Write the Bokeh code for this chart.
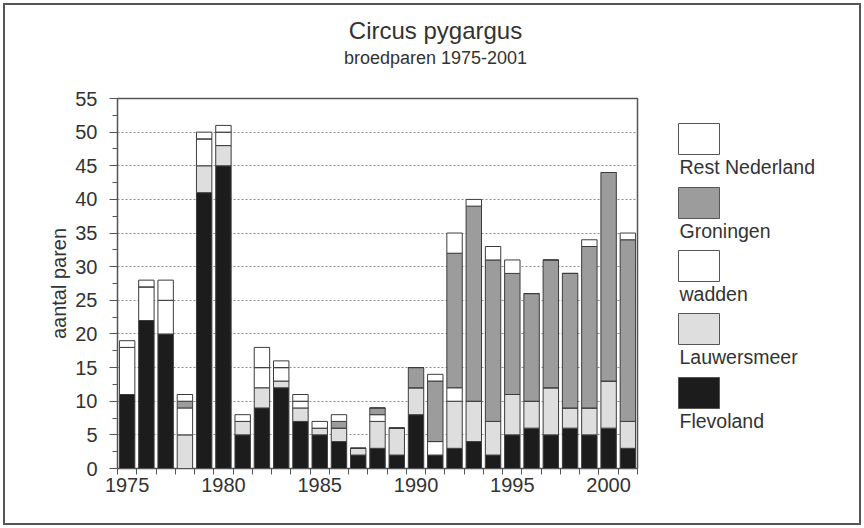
from bokeh.plotting import figure
from bokeh.layouts import column, row
from bokeh.models import (FixedTicker, SingleIntervalTicker, Range1d, ColumnDataSource)
from bokeh.core.properties import value
from bokeh.embed import file_html
from bokeh.resources import INLINE

years = list(range(1975, 2002))
flevoland   = [11, 22, 20, 0, 41, 45, 5, 9, 12, 7, 5, 4, 2, 3, 2, 8, 2, 3, 4, 2, 5, 6, 5, 6, 5, 6, 3]
lauwersmeer = [0, 0, 0, 5, 4, 3, 2, 3, 1, 2, 1, 2, 1, 4, 4, 4, 0, 7, 6, 5, 6, 4, 7, 3, 4, 7, 4]
wadden      = [7, 5, 5, 4, 4, 2, 0, 3, 2, 1, 0, 0, 0, 1, 0, 0, 2, 2, 0, 0, 0, 0, 0, 0, 0, 0, 0]
groningen   = [0, 0, 0, 1, 0, 0, 0, 0, 0, 0, 0, 1, 0, 1, 0, 3, 9, 20, 29, 24, 18, 16, 19, 20, 24, 31, 27]
rest_nl     = [1, 1, 3, 1, 1, 1, 1, 3, 1, 1, 1, 1, 0, 0, 0, 0, 1, 3, 1, 2, 2, 0, 0, 0, 1, 0, 1]

series_names = ["Flevoland", "Lauwersmeer", "wadden", "Groningen", "Rest Nederland"]
series_colors = ["#1c1c1c", "#dedede", "#ffffff", "#9c9c9c", "#ffffff"]
x_label_years = [1975, 1980, 1985, 1990, 1995, 2000]
title_text = "Circus pygargus"
subtitle_text = "broedparen 1975-2001"

FONT = "Liberation Sans"
TXT = "#333333"
EDGE = "#555555"

# ---- page geometry (pixels on the page) ----
X0, Y0 = 5, 5            # content origin: 3px css margin + 2px border
W, H = 854, 518          # total content size
TH = 68                  # height of the title strip
PW = 650                 # width of the chart part
FL, FR, FT, FB = 117, 637, 98, 468   # frame edges


def pixel_figure(width, height, x0, x1, ytop, ybot, **borders):
    f = figure(width=width, height=height, output_backend="svg", toolbar_location=None,
               x_range=Range1d(x0, x1), y_range=Range1d(ybot, ytop),
               x_axis_location=None, y_axis_location=None, title=None, **borders)
    f.grid.visible = False
    f.outline_line_color = None
    f.background_fill_color = "white"
    f.border_fill_color = "white"
    return f


# ---- title strip ----
t = pixel_figure(W, TH, X0, X0 + W, Y0, Y0 + TH, min_border=0)
t.text(x=[435], y=[30], text=[title_text], text_font_size="24px", text_color=TXT,
       text_align="center", text_baseline="alphabetic", text_font=value(FONT))
t.text(x=[435], y=[57], text=[subtitle_text], text_font_size="18px", text_color=TXT,
       text_align="center", text_baseline="alphabetic", text_font=value(FONT))

# ---- chart ----
src = ColumnDataSource(dict(years=years, Flevoland=flevoland, Lauwersmeer=lauwersmeer,
                            wadden=wadden, Groningen=groningen, **{"Rest Nederland": rest_nl}))
PH = H - TH
b_top = FT - (Y0 + TH)
b_bot = (Y0 + H) - FB
p = figure(width=PW, height=PH, title=None, output_backend="svg", toolbar_location=None,
           x_range=Range1d(1974.5, 2001.5), y_range=Range1d(0, 55),
           min_border_left=FL - X0, min_border_right=X0 + PW - FR,
           min_border_top=b_top, min_border_bottom=b_bot)

p.vbar_stack(series_names, x="years", width=0.8, source=src,
             fill_color=series_colors, line_color="#3c3c3c", line_width=1)

p.xaxis.ticker = FixedTicker(ticks=x_label_years,
                             minor_ticks=[y - 0.5 for y in years] + [years[-1] + 0.5])
p.xaxis.major_tick_out = 0
p.xaxis.major_tick_in = 0
p.xaxis.minor_tick_out = 6
p.xaxis.minor_tick_in = 0
p.xaxis.major_label_standoff = 3

p.yaxis.ticker = SingleIntervalTicker(interval=5, num_minor_ticks=2)
p.yaxis.major_tick_out = 8
p.yaxis.major_tick_in = 0
p.yaxis.minor_tick_out = 5
p.yaxis.minor_tick_in = 0
p.yaxis.major_label_standoff = 12
p.yaxis.axis_label = "aantal paren"
p.yaxis.axis_label_standoff = 2

for ax in (p.xaxis[0], p.yaxis[0]):
    ax.axis_line_color = EDGE
    ax.minor_tick_line_color = EDGE
    ax.major_label_text_font = FONT
    ax.major_label_text_font_size = "20px"
    ax.major_label_text_color = TXT
    ax.axis_label_text_font = FONT
    ax.axis_label_text_font_size = "20px"
    ax.axis_label_text_font_style = "normal"
    ax.axis_label_text_color = TXT
p.yaxis.major_tick_line_color = EDGE
p.xaxis.major_tick_line_color = None

p.xgrid.visible = False
p.ygrid.grid_line_color = "#8c8c8c"
p.ygrid.grid_line_dash = "2 2"
p.outline_line_color = EDGE
p.outline_line_width = 1.5
p.background_fill_color = "white"
p.border_fill_color = "white"

# ---- legend panel (frame shares the chart frame's top and bottom) ----
LW = W - PW
lg = pixel_figure(LW, PH, X0 + PW, X0 + W, FT, FB,
                  min_border_left=0, min_border_right=0,
                  min_border_top=b_top, min_border_bottom=b_bot)
box_left, box_w, box_h = 678, 41, 31
tops = [123, 187, 250, 313, 377]
leg_names = series_names[::-1]
leg_colors = series_colors[::-1]
lg.quad(left=[box_left] * 5, right=[box_left + box_w] * 5,
        top=tops, bottom=[v + box_h for v in tops],
        fill_color=leg_colors, line_color=EDGE, line_width=1)
lg.text(x=[box_left + 1] * 5, y=[v + box_h + 1 for v in tops], text=leg_names,
        text_font=value(FONT), text_font_size="19.5px", text_color=TXT,
        text_align="left", text_baseline="top")

layout = column(t, row(p, lg, spacing=0), spacing=0)
layout.styles = {"margin": "3px", "border": "2px solid #555555"}

open("out.html", "w").write(file_html(layout, INLINE))
